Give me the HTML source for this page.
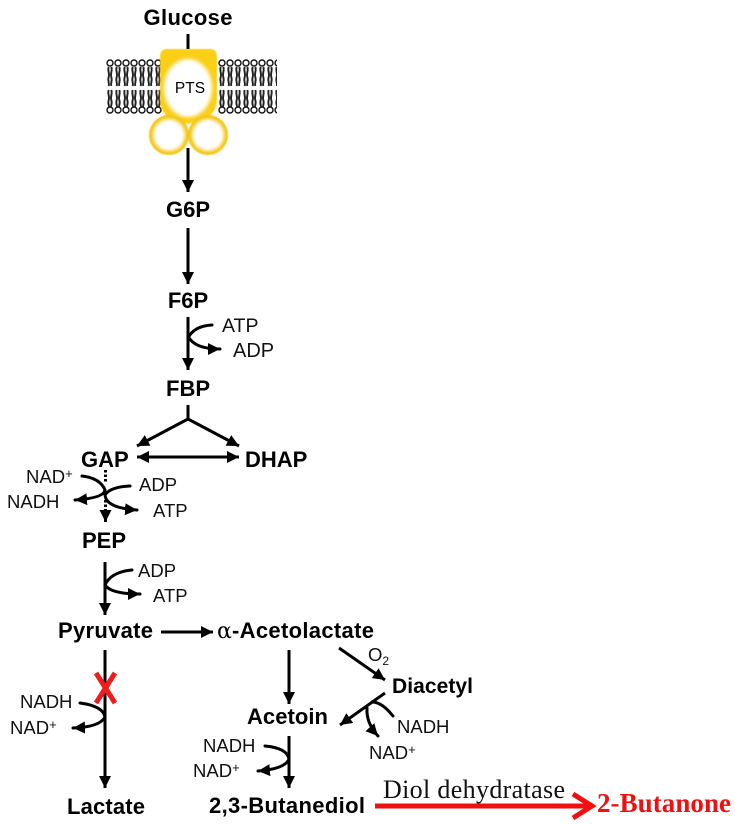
<!DOCTYPE html>
<html><head><meta charset="utf-8"><style>
html,body{margin:0;padding:0;background:#fff}
svg{display:block;filter:blur(0.35px)}
.b{font:bold 22px "Liberation Sans",sans-serif;fill:#000}
.r{font:18.5px "Liberation Sans",sans-serif;fill:#111}
.l{fill:none;stroke:#000;stroke-width:3}
.c{fill:none;stroke:#000;stroke-width:3;stroke-linecap:round}
</style></head><body>
<svg width="735" height="824" viewBox="0 0 735 824" xmlns="http://www.w3.org/2000/svg">
<defs>
<marker id="a" markerUnits="userSpaceOnUse" markerWidth="14" markerHeight="14" refX="12" refY="6" orient="auto"><path d="M0 0L12 6L0 12Z" fill="#000"/></marker>
<marker id="st" markerUnits="userSpaceOnUse" markerWidth="14" markerHeight="14" refX="0" refY="6" orient="auto"><path d="M12 0L0 6L12 12Z" fill="#000"/></marker>
<pattern id="lip" patternUnits="userSpaceOnUse" x="106" y="58" width="8" height="56">
<path d="M2.7 9C1.2 13 4 15 2.7 19C1.4 23 3.7 25 2.7 28M5.3 9C6.8 13 4 15 5.3 19C6.6 23 4.3 25 5.3 28M2.7 32C1.2 36 4 38 2.7 42C1.4 46 3.7 48 2.7 49M5.3 32C6.8 36 4 38 5.3 42C6.6 46 4.3 48 5.3 49" fill="none" stroke="#222" stroke-width="1.9"/>
<circle cx="4" cy="5" r="3" fill="#fff" stroke="#111" stroke-width="1.4"/>
<circle cx="4" cy="52" r="3" fill="#fff" stroke="#111" stroke-width="1.4"/>
</pattern>
<filter id="bl" x="-30%" y="-30%" width="160%" height="160%"><feGaussianBlur stdDeviation="1.8"/></filter>
<filter id="b1" x="-10%" y="-10%" width="120%" height="120%"><feGaussianBlur stdDeviation="0.6"/></filter>
</defs>

<!-- membrane -->
<rect x="106" y="58" width="56" height="56" fill="url(#lip)"/>
<rect x="218" y="58" width="59" height="56" fill="url(#lip)"/>

<!-- PTS -->
<g filter="url(#b1)">
<path d="M167 49H210Q217 49 217 57V100Q216 113 206 118L188 124L171 118Q160 113 160 100V57Q160 49 167 49Z" fill="#fbcf12"/>
<circle cx="169" cy="135" r="20" fill="#f5c40c"/>
<circle cx="208" cy="135" r="20" fill="#f5c40c"/>
</g>
<ellipse cx="188" cy="88" rx="24" ry="29" fill="#fff" filter="url(#bl)"/>
<circle cx="169" cy="135" r="16" fill="#fff" filter="url(#bl)"/>
<circle cx="208" cy="135" r="16" fill="#fff" filter="url(#bl)"/>
<text x="190" y="93" text-anchor="middle" style="font:15.5px 'Liberation Sans',sans-serif">PTS</text>

<!-- main vertical arrows -->
<path class="l" d="M188 34V49"/>
<path class="l" d="M188 148V192" marker-end="url(#a)"/>
<path class="l" d="M188 228V284" marker-end="url(#a)"/>
<path class="l" d="M188 317V370" marker-end="url(#a)"/>
<path class="c" d="M212 325Q194 326 188 338"/>
<path class="c" d="M188 336Q194 349 220 349" marker-end="url(#a)"/>

<!-- FBP split -->
<path class="l" d="M188 405V419"/>
<path class="l" d="M188 419L137 446" marker-end="url(#a)"/>
<path class="l" d="M188 419L239 446" marker-end="url(#a)"/>
<path class="l" d="M137 457H239" marker-start="url(#st)" marker-end="url(#a)"/>

<!-- GAP -> PEP -->
<path d="M105.5 470V483" fill="none" stroke="#000" stroke-width="3" stroke-dasharray="2.5 2"/>
<path d="M105.5 500V510" fill="none" stroke="#000" stroke-width="3" stroke-dasharray="2.5 2"/>
<path d="M105.5 510V522" class="l" marker-end="url(#a)"/>
<path class="c" d="M82 476Q100 478 105 490Q104 498 75 500" marker-end="url(#a)"/>
<path class="c" d="M130 486Q110 487 105 495Q106 508 137 510" marker-end="url(#a)"/>

<!-- PEP -> Pyruvate -->
<path class="l" d="M105 562V615" marker-end="url(#a)"/>
<path class="c" d="M132 570Q111 572 105 585Q111 594 140 594" marker-end="url(#a)"/>

<!-- Pyruvate -> acetolactate -->
<path class="l" d="M161 632H213" marker-end="url(#a)"/>

<!-- Lactate -->
<path class="l" d="M105 650V788" marker-end="url(#a)"/>
<path d="M96 673L115 703M115 673L96 703" fill="none" stroke="#ee1c1c" stroke-width="5"/>
<path class="c" d="M80 703Q103 706 105 717Q100 727 73 728" marker-end="url(#a)"/>

<!-- acetolactate branches -->
<path class="l" d="M289 650V704" marker-end="url(#a)"/>
<path class="l" d="M339 648L385 680" marker-end="url(#a)"/>
<path class="l" d="M385 693L340 725" marker-end="url(#a)"/>
<path class="c" d="M393 716Q382 702 372 702"/>
<path class="c" d="M367 708Q366 723 378 736" marker-end="url(#a)"/>

<!-- acetoin -->
<path class="l" d="M289 736V788" marker-end="url(#a)"/>
<path class="c" d="M265 746Q287 748 289 759Q285 769 258 771" marker-end="url(#a)"/>

<!-- red arrow -->
<path d="M375 806H588" fill="none" stroke="#f01010" stroke-width="5"/>
<path d="M573 794L592 806L573 818" fill="none" stroke="#f01010" stroke-width="5"/>

<!-- labels -->
<text class="b" x="188" y="25" text-anchor="middle" textLength="89">Glucose</text>
<text class="b" x="188" y="217" text-anchor="middle">G6P</text>
<text class="b" x="188" y="308" text-anchor="middle">F6P</text>
<text class="b" x="188" y="396" text-anchor="middle">FBP</text>
<text class="b" x="81" y="467">GAP</text>
<text class="b" x="245" y="467">DHAP</text>
<text class="b" x="82" y="548">PEP</text>
<text class="b" x="58" y="638" textLength="95">Pyruvate</text>
<text class="b" x="67" y="814" textLength="78">Lactate</text>
<text x="217" y="638" style="font:22px 'DejaVu Serif','Liberation Serif',serif">α</text>
<text class="b" x="232" y="638" textLength="142">-Acetolactate</text>
<text class="b" x="392" y="693" style="font-size:21px" textLength="81">Diacetyl</text>
<text class="b" x="247" y="724" textLength="81">Acetoin</text>
<text class="b" x="209" y="813" textLength="156">2,3-Butanediol</text>

<text class="r" x="222" y="332" style="font-size:19.5px">ATP</text>
<text class="r" x="233" y="357" style="font-size:20px">ADP</text>
<text class="r" x="26" y="483">NAD<tspan font-size="13" dy="-5">+</tspan></text>
<text class="r" x="7" y="508">NADH</text>
<text class="r" x="139" y="491">ADP</text>
<text class="r" x="153" y="517">ATP</text>
<text class="r" x="138" y="577">ADP</text>
<text class="r" x="153" y="602">ATP</text>
<text class="r" x="20" y="708">NADH</text>
<text class="r" x="10" y="734">NAD<tspan font-size="13" dy="-5">+</tspan></text>
<text class="r" x="203" y="752">NADH</text>
<text class="r" x="193" y="777">NAD<tspan font-size="13" dy="-5">+</tspan></text>
<text class="r" x="397" y="733">NADH</text>
<text class="r" x="369" y="759">NAD<tspan font-size="13" dy="-5">+</tspan></text>
<text class="r" x="368" y="661">O<tspan font-size="12" dy="4">2</tspan></text>

<text x="383" y="798" textLength="182" style="font:26px 'Liberation Serif',serif;fill:#111">Diol dehydratase</text>
<text x="597" y="812" textLength="134" style="font:bold 27px 'Liberation Serif',serif;fill:#f01010">2-Butanone</text>
</svg>
</body></html>
